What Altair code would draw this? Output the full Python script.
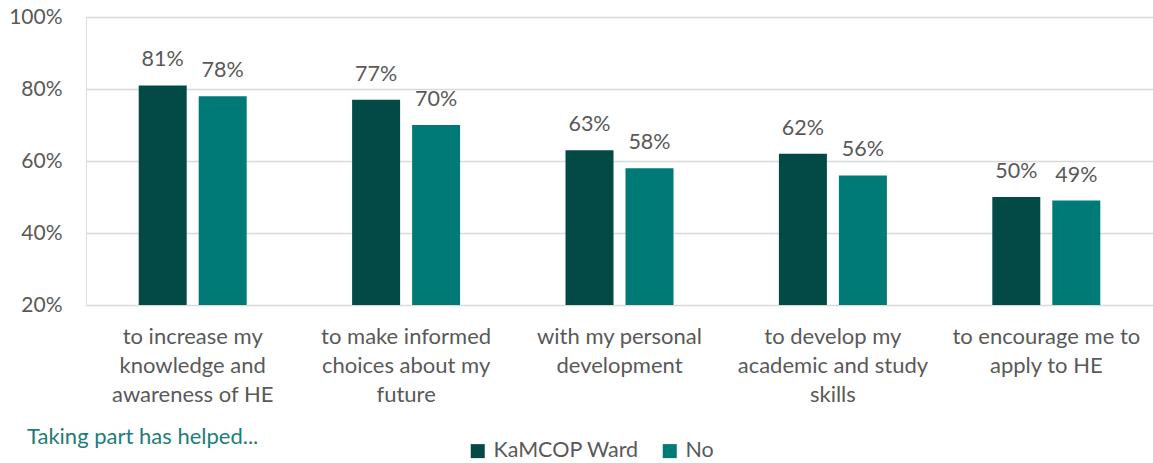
import altair as alt
import pandas as pd

categories = [
    "to increase my\nknowledge and\nawareness of HE",
    "to make informed\nchoices about my\nfuture",
    "with my personal\ndevelopment",
    "to develop my\nacademic and study\nskills",
    "to encourage me to\napply to HE",
]
series = ["KaMCOP Ward", "No"]
kamcop = [0.81, 0.77, 0.63, 0.62, 0.50]
no_vals = [0.78, 0.70, 0.58, 0.56, 0.49]
y_ticks = [0.2, 0.4, 0.6, 0.8, 1.0]
note = "Taking part has helped..."

rows = []
for c, a, b in zip(categories, kamcop, no_vals):
    rows.append({"cat": c, "series": series[0], "value": a})
    rows.append({"cat": c, "series": series[1], "value": b})
df = pd.DataFrame(rows)

FONT = "Lato"
GRAY = "#595959"

x = alt.X("cat:N", sort=categories, title=None,
          scale=alt.Scale(paddingInner=0.494, paddingOuter=0.247),
          axis=alt.Axis(labelAngle=0, labelExpr="split(datum.label, '\\n')",
                        labelFontSize=22, labelColor=GRAY, labelFont=FONT,
                        labelLineHeight=29, labelPadding=21, ticks=False,
                        domain=False, grid=False, labelLimit=300,
                        labelBaseline="top"))
xo = alt.XOffset("series:N", sort=series, scale=alt.Scale(paddingInner=0.2, paddingOuter=0))
y = alt.Y("value:Q", title=None,
          scale=alt.Scale(domain=[0.2, 1.0], zero=False, nice=False),
          axis=alt.Axis(values=y_ticks, format=".0%", labelFontSize=21,
                        labelColor=GRAY, labelFont=FONT, labelPadding=24,
                        ticks=False, domain=False, gridColor="#D9D9D9",
                        gridWidth=1.5))
color = alt.Color("series:N", sort=series,
                  scale=alt.Scale(domain=series, range=["#034A47", "#007A77"]),
                  legend=alt.Legend(title=None, orient="none", direction="horizontal",
                                    legendX=381, legendY=423, symbolType="square",
                                    symbolSize=196, symbolStrokeWidth=0,
                                    labelFontSize=21.5, labelColor=GRAY, labelFont=FONT,
                                    columnPadding=20, labelOffset=5))

base = alt.Chart(df)
bars = base.mark_bar().encode(x=x, xOffset=xo, y=y, y2=alt.datum(0.2), color=color)
labels = base.mark_text(baseline="alphabetic", dy=-19, fontSize=21.5, color=GRAY, font=FONT).encode(
    x=x, xOffset=xo, y=y, text=alt.Text("value:Q", format=".0%"))
note_layer = alt.Chart(pd.DataFrame({"t": [note]})).mark_text(
    align="left", baseline="middle", fontSize=22, color="#1E7D78", font=FONT
).encode(x=alt.value(-59), y=alt.value(420), text="t:N")

chart = alt.layer(bars, labels, note_layer).properties(
    width=1067, height=288,
    autosize=alt.AutoSizeParams(type="none"),
    padding={"left": 86, "top": 17, "right": 0, "bottom": 158},
).configure_view(stroke=None).configure(background="white")

chart.save("out.html", embed_options={"renderer": "svg", "actions": False})
